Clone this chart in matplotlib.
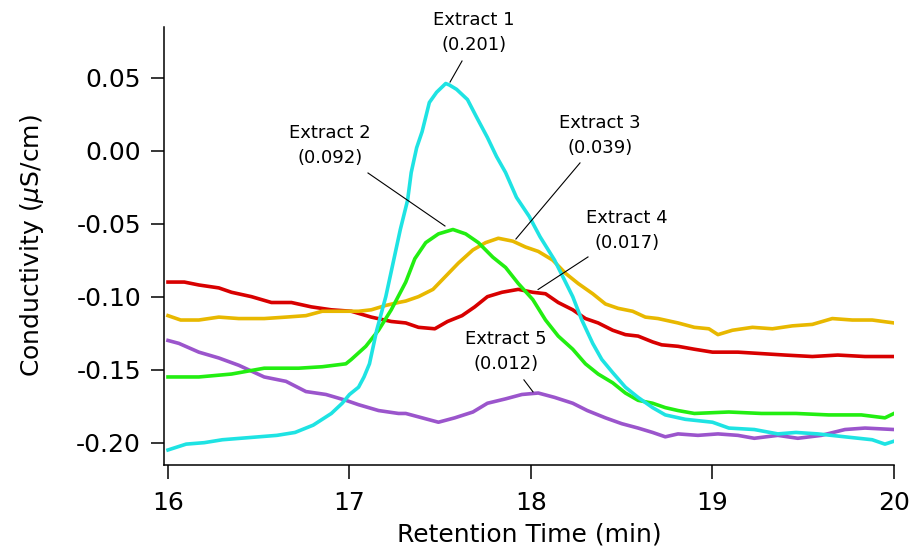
import matplotlib
matplotlib.use("Agg")
import matplotlib.pyplot as plt
from matplotlib.ticker import FuncFormatter

# ---- data ----
t1 = [16.00, 16.10, 16.20, 16.30, 16.40, 16.50, 16.60, 16.70, 16.80, 16.90, 16.96, 17.00,
      17.05, 17.08, 17.11, 17.15, 17.20, 17.24, 17.28, 17.32, 17.34, 17.37, 17.40, 17.44,
      17.48, 17.53, 17.55, 17.59, 17.65, 17.70, 17.76, 17.81, 17.86, 17.92, 17.99, 18.05,
      18.13, 18.23, 18.28, 18.34, 18.39, 18.45, 18.52, 18.59, 18.67, 18.74, 18.85, 19.00,
      19.09, 19.23, 19.36, 19.46, 19.58, 19.73, 19.88, 19.95, 20.00]
v1 = [-0.205, -0.201, -0.200, -0.198, -0.197, -0.196, -0.195, -0.193, -0.188, -0.180, -0.173, -0.167,
      -0.162, -0.155, -0.146, -0.123, -0.100, -0.077, -0.054, -0.034, -0.015, 0.002, 0.013, 0.033,
      0.040, 0.046, 0.045, 0.042, 0.035, 0.023, 0.009, -0.004, -0.015, -0.032, -0.045, -0.059,
      -0.075, -0.100, -0.116, -0.132, -0.143, -0.152, -0.162, -0.169, -0.176, -0.181, -0.184, -0.186,
      -0.190, -0.191, -0.194, -0.193, -0.194, -0.196, -0.198, -0.201, -0.199]

t2 = [16.00, 16.17, 16.35, 16.53, 16.72, 16.85, 16.98, 17.01, 17.09, 17.16, 17.23, 17.31,
      17.36, 17.42, 17.49, 17.57, 17.64, 17.71, 17.79, 17.86, 17.93, 18.01, 18.08, 18.15,
      18.23, 18.30, 18.37, 18.45, 18.52, 18.59, 18.67, 18.74, 18.81, 18.90, 19.09, 19.27,
      19.46, 19.64, 19.82, 19.95, 20.00]
v2 = [-0.155, -0.155, -0.153, -0.149, -0.149, -0.148, -0.146, -0.143, -0.134, -0.123, -0.109, -0.090,
      -0.074, -0.063, -0.057, -0.054, -0.057, -0.063, -0.073, -0.080, -0.091, -0.102, -0.116, -0.127,
      -0.136, -0.146, -0.153, -0.159, -0.166, -0.171, -0.173, -0.176, -0.178, -0.180, -0.179, -0.180,
      -0.180, -0.181, -0.181, -0.183, -0.180]

t3 = [16.00, 16.07, 16.17, 16.28, 16.39, 16.53, 16.65, 16.76, 16.85, 16.96, 17.05, 17.12,
      17.20, 17.27, 17.31, 17.38, 17.46, 17.53, 17.60, 17.68, 17.75, 17.82, 17.90, 17.97,
      18.04, 18.12, 18.19, 18.26, 18.34, 18.41, 18.48, 18.56, 18.63, 18.70, 18.81, 18.90,
      18.98, 19.03, 19.11, 19.22, 19.33, 19.44, 19.55, 19.66, 19.77, 19.88, 20.00]
v3 = [-0.113, -0.116, -0.116, -0.114, -0.115, -0.115, -0.114, -0.113, -0.110, -0.110, -0.110, -0.109,
      -0.106, -0.104, -0.103, -0.100, -0.095, -0.086, -0.077, -0.068, -0.063, -0.060, -0.062, -0.066,
      -0.069, -0.075, -0.084, -0.091, -0.098, -0.105, -0.108, -0.110, -0.114, -0.115, -0.118, -0.121,
      -0.122, -0.126, -0.123, -0.121, -0.122, -0.120, -0.119, -0.115, -0.116, -0.116, -0.118]

t4 = [16.00, 16.09, 16.17, 16.28, 16.35, 16.46, 16.57, 16.68, 16.79, 16.90, 17.01, 17.12,
      17.23, 17.31, 17.38, 17.47, 17.54, 17.62, 17.69, 17.76, 17.84, 17.93, 18.01, 18.08,
      18.15, 18.23, 18.30, 18.37, 18.45, 18.52, 18.59, 18.67, 18.72, 18.81, 18.90, 19.00,
      19.14, 19.27, 19.40, 19.55, 19.69, 19.84, 20.00]
v4 = [-0.090, -0.090, -0.092, -0.094, -0.097, -0.100, -0.104, -0.104, -0.107, -0.109, -0.110, -0.114,
      -0.117, -0.118, -0.121, -0.122, -0.117, -0.113, -0.107, -0.100, -0.097, -0.095, -0.097, -0.098,
      -0.104, -0.109, -0.115, -0.118, -0.123, -0.126, -0.127, -0.131, -0.133, -0.134, -0.136, -0.138,
      -0.138, -0.139, -0.140, -0.141, -0.140, -0.141, -0.141]

t5 = [16.00, 16.06, 16.17, 16.28, 16.39, 16.46, 16.53, 16.65, 16.76, 16.87, 16.98, 17.05,
      17.16, 17.27, 17.31, 17.40, 17.49, 17.58, 17.68, 17.76, 17.86, 17.95, 18.04, 18.13,
      18.23, 18.31, 18.41, 18.50, 18.59, 18.67, 18.74, 18.81, 18.92, 19.03, 19.14, 19.23,
      19.36, 19.47, 19.60, 19.73, 19.84, 20.00]
v5 = [-0.130, -0.132, -0.138, -0.142, -0.147, -0.151, -0.155, -0.158, -0.165, -0.167, -0.171, -0.174,
      -0.178, -0.180, -0.180, -0.183, -0.186, -0.183, -0.179, -0.173, -0.170, -0.167, -0.166, -0.169,
      -0.173, -0.178, -0.183, -0.187, -0.190, -0.193, -0.196, -0.194, -0.195, -0.194, -0.195, -0.197,
      -0.195, -0.197, -0.195, -0.191, -0.190, -0.191]

labels = ["Extract 1\n(0.201)", "Extract 2\n(0.092)", "Extract 3\n(0.039)",
          "Extract 4\n(0.017)", "Extract 5\n(0.012)"]
colors = ["#1EE3E3", "#22EE11", "#E8B800", "#D80000", "#9B55CC"]

# label centres and leader lines (data coordinates)
label_xy = [(17.686, 0.0806), (16.893, 0.0034), (18.381, 0.0101), (18.529, -0.0550), (17.862, -0.1379)]
lead_from = [(17.620, 0.0614), (17.102, -0.0153), (18.270, -0.0084), (18.314, -0.0728), (17.961, -0.1570)]
lead_to = [(17.554, 0.0470), (17.526, -0.0516), (17.917, -0.0605), (18.039, -0.0951), (18.011, -0.1652)]

xticks = [16, 17, 18, 19, 20]
yticks = [0.05, 0.00, -0.05, -0.10, -0.15, -0.20]

# ---- figure ----
fig = plt.figure(figsize=(9.12, 5.5), dpi=100)
ax = fig.add_axes([164 / 912, 1 - 465 / 550, (894 - 164) / 912, (465 - 27) / 550])

series = [(t1, v1), (t2, v2), (t3, v3), (t4, v4), (t5, v5)]
for i in reversed(range(5)):
    t, v = series[i]
    ax.plot(t, v, color=colors[i], lw=2.6, solid_joinstyle="round", zorder=3 + (4 - i))

for lab, xy, a, b in zip(labels, label_xy, lead_from, lead_to):
    ax.text(xy[0], xy[1], lab, ha="center", va="center", fontsize=13,
            linespacing=1.5, color="black", zorder=10)
    ax.plot([a[0], b[0]], [a[1], b[1]], color="black", lw=0.8, zorder=10)

ax.set_xlim(15.978, 20.0)
ax.set_ylim(-0.2153, 0.0847)
ax.set_xticks(xticks)
ax.set_yticks(yticks)
ax.yaxis.set_major_formatter(FuncFormatter(lambda v, p: f"{v:.2f}" if abs(v) > 1e-9 else "0.00"))
ax.xaxis.set_major_formatter(FuncFormatter(lambda v, p: f"{v:.0f}"))

for s in ["top", "right"]:
    ax.spines[s].set_visible(False)
for s in ["left", "bottom"]:
    ax.spines[s].set_linewidth(1.1)
ax.tick_params(axis="y", direction="out", length=9.5, width=1.1, pad=7, labelsize=18)
ax.tick_params(axis="x", direction="out", length=10, width=1.1, pad=9, labelsize=18)

ax.set_xlabel("Retention Time (min)", fontsize=18, labelpad=5)
ax.set_ylabel(r"Conductivity ($\mu$S/cm)", fontsize=18, labelpad=22)

fig.savefig("out.png", dpi=100)
